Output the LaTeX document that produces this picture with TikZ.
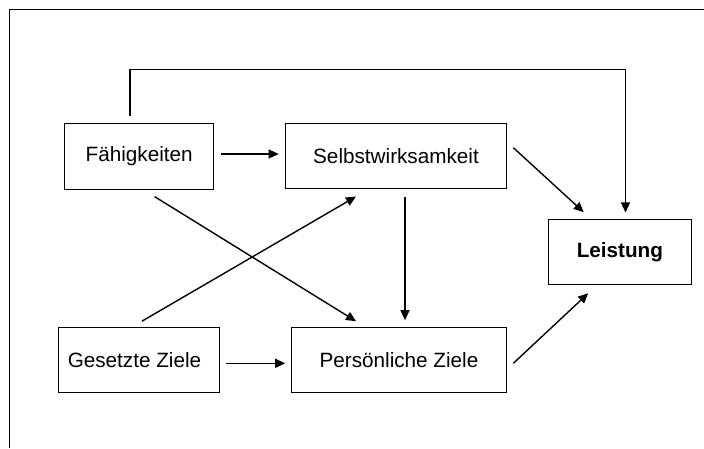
\documentclass[tikz,border=0pt]{standalone}
\usepackage{fontspec}
\setmainfont{Liberation Sans}
\usetikzlibrary{arrows.meta}
\begin{document}
\begin{tikzpicture}[x=1pt,y=-1pt,
  box/.style={draw=black, line width=1.1pt, rectangle, inner sep=0pt,
    font=\fontsize{20.7}{24}\selectfont},
  arr/.style={draw=black, line width=1.4pt, -{Triangle[length=10pt,width=9pt]}}]
\useasboundingbox (0,0) rectangle (704,448);
\draw[line width=1pt] (9,448) -- (9,9.3) -- (704,9.3);
\node[box, minimum width=149pt, minimum height=65.6pt] (fa) at (139.2,156.5) {Fähigkeiten};
\node[box, minimum width=221pt, minimum height=64.6pt] (se) at (396,156) {Selbstwirksamkeit};
\node[box, minimum width=143pt, minimum height=65pt] (le) at (619.9,251.8) {\bfseries Leistung};
\node[box, minimum width=161pt, minimum height=64.3pt] (ge) at (139,359.9) {\hspace*{-9pt}Gesetzte Ziele};
\node[box, minimum width=215pt, minimum height=64.3pt] (pe) at (399,359.9) {Persönliche Ziele};
\coordinate (tr) at (625.5,69.3);
\draw[arr] ([shift={(6.3pt,2.5pt)}]fa.east) -- ([shift={(-6.3pt,2pt)}]se.west);
\draw[arr] ([shift={(-9.2pt,6.7pt)}]fa.north) |- (tr) -- ([shift={(5.6pt,6.3pt)}]le.north);
\draw[arr] ([shift={(6.3pt,8.3pt)}]se.east) -- ([shift={(-36.2pt,6.6pt)}]le.north);
\draw[arr] ([shift={(15.3pt,-6.7pt)}]fa.south) -- ([shift={(-43pt,6pt)}]pe.north);
\draw[arr] ([shift={(2.9pt,6pt)}]ge.north) -- ([shift={(-40pt,-7.7pt)}]se.south);
\draw[arr] ([shift={(9pt,-7.7pt)}]se.south) -- ([shift={(6pt,7pt)}]pe.north);
\draw[arr] ([shift={(6.3pt,-3.4pt)}]ge.east) -- ([shift={(-5.8pt,-3.4pt)}]pe.west);
\draw[arr] ([shift={(6.3pt,-3.4pt)}]pe.east) -- ([shift={(-31.7pt,-8.4pt)}]le.south);
\end{tikzpicture}
\end{document}
